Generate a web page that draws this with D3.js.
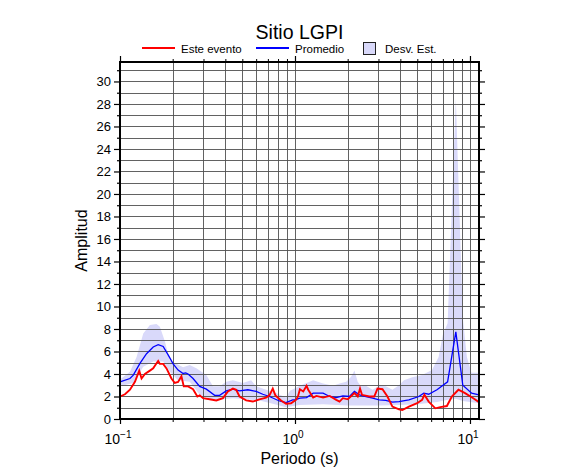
<!DOCTYPE html>
<html><head><meta charset="utf-8">
<script src="https://cdn.jsdelivr.net/npm/d3@7/dist/d3.min.js"></script>
<style>
body{margin:0;background:#fff}
text{font-family:"Liberation Sans",Arial,Helvetica,sans-serif;fill:#000}
</style>
</head><body>
<svg id="chart" width="586" height="475"></svg>
<script>
// ---------- data ----------
const titleText = "Sitio LGPI";
const xLabelText = "Periodo (s)";
const yLabelText = "Amplitud";
const legendLabels = ["Este evento", "Promedio", "Desv. Est."];

const eventPeriods = [0.1,0.1068,0.114,0.1217,0.1288,0.1328,0.1388,0.1482,0.1548,0.1617,0.1653,0.169,0.1765,0.1844,0.1968,0.2056,0.2148,0.2244,0.2314,0.2449,0.2615,0.2768,0.2854,0.2982,0.3253,0.3551,0.3874,0.4138,0.4418,0.4614,0.4821,0.5262,0.5741,0.6266,0.6838,0.7144,0.7464,0.7727,0.8325,0.8887,0.9489,1.0132,1.04,1.067,1.115,1.164,1.19,1.27,1.326,1.447,1.578,1.721,1.797,1.877,2.004,2.186,2.283,2.353,2.415,2.658,2.837,2.963,3.162,3.375,3.603,3.929,4.104,4.477,4.991,5.326,5.49,5.808,6.337,6.764,7.379,7.876,8.59,9.37,10.44,11.26];
const eventAmps    = [2.0,2.2,2.6,3.3,4.3,3.6,4.0,4.3,4.5,4.95,5.15,4.9,4.9,4.5,3.6,3.2,3.3,3.8,2.9,2.9,2.65,2.0,2.1,1.85,1.75,1.65,1.85,2.45,2.7,2.6,2.0,1.65,1.55,1.75,1.9,2.1,2.7,2.1,1.65,1.35,1.4,1.7,2.0,2.65,2.45,2.95,2.6,1.9,2.05,1.9,2.05,1.7,1.55,1.85,1.75,2.3,2.0,2.7,2.15,2.0,2.0,2.7,2.65,2.0,1.1,0.85,0.8,1.1,1.4,1.7,2.15,1.55,0.95,1.05,1.15,2.0,2.6,2.3,1.85,1.5];

const meanPeriods = [0.1,0.114,0.1191,0.13,0.1418,0.1548,0.1653,0.1765,0.1884,0.2012,0.2148,0.2294,0.2375,0.2449,0.2615,0.2854,0.3115,0.3474,0.371,0.4048,0.4418,0.4821,0.5378,0.5998,0.6545,0.7144,0.8145,0.8887,0.9699,1.0,1.067,1.164,1.27,1.447,1.578,1.721,1.877,2.048,2.186,2.333,2.545,2.776,3.028,3.303,3.603,3.929,4.477,5.101,5.443,5.808,6.477,7.45,8.3,9.1,10.22,11.26];
const meanAmps    = [3.3,3.6,3.9,4.95,5.8,6.4,6.6,6.45,5.7,4.9,4.35,4.05,4.1,4.0,3.6,2.9,2.65,2.1,2.1,2.5,2.65,2.5,2.6,2.45,2.2,2.0,1.6,1.45,1.7,1.7,1.85,1.9,2.3,2.3,2.0,1.9,2.05,2.0,2.45,2.15,2.0,1.85,1.7,1.65,1.5,1.55,1.7,2.0,2.3,2.2,2.6,3.3,7.75,3.0,2.3,2.15];

const upperPeriods = [0.1,0.114,0.1244,0.1358,0.1482,0.1617,0.169,0.1804,0.1926,0.2101,0.2294,0.2503,0.2732,0.3115,0.3399,0.371,0.4048,0.4418,0.5036,0.5617,0.5998,0.6838,0.7796,0.8887,0.937,1.067,1.27,1.447,1.648,1.797,1.961,2.093,2.186,2.283,2.384,2.545,2.776,3.028,3.303,3.603,3.929,4.195,4.676,5.326,6.067,6.619,7.0,7.45,8.3,9.1,9.6,10.2,11.26];
const upperAmps    = [3.5,4.2,5.5,7.6,8.35,8.45,8.2,6.9,5.2,4.9,4.6,4.8,4.5,3.9,2.9,2.9,3.3,3.45,3.2,3.45,2.9,2.6,2.3,1.9,2.5,2.95,3.45,3.15,2.95,3.15,3.3,3.75,4.3,3.3,2.9,2.95,2.6,2.95,2.9,2.6,3.0,3.45,3.7,3.9,4.35,5.5,7.5,8.5,28.5,9.0,5.5,4.1,4.1];

const lowerPeriods = [0.1,0.1191,0.1358,0.1548,0.1765,0.1926,0.2148,0.2503,0.2854,0.3399,0.3874,0.4418,0.5262,0.6266,0.7464,0.8887,1.0585,1.447,2.0,3.0,4.0,5.0,6.5,7.45,8.3,9.1,11.26];
const lowerAmps    = [2.9,3.2,4.65,5.1,5.1,4.2,3.45,3.3,2.15,1.7,1.75,1.85,1.75,1.65,1.35,1.05,1.25,1.3,1.2,1.2,1.25,1.3,1.5,1.7,1.8,1.6,1.4];

const xDomain = [0.1, 11.26];
const yDomain = [0, 31.73];
const xDecades = [0.1, 1, 10];
const xDecadeExponents = ["\u22121", "0", "1"];
const yTickLabels = d3.range(0, 31, 2);

// ---------- layout ----------
const L = 120, R = 479, T = 62, B = 419;
const colRed = "#ff0000", colBlue = "#0000ff", colBand = "#d9d9fa";

const svg = d3.select("#chart");
const x = d3.scaleLog().domain(xDomain).range([L, R]);
const y = d3.scaleLinear().domain(yDomain).range([B, T]);

// grid values
const xGrid = [];
[0.1, 1].forEach(d => { for (let k = 1; k <= 9; k++) xGrid.push(+(d * k).toFixed(4)); });
xGrid.push(10);
const yGrid = d3.range(0, 32, 1);

// band
const upperPts = upperPeriods.map((p, i) => [p, upperAmps[i]]);
const lowerPts = lowerPeriods.map((p, i) => [p, lowerAmps[i]]);
const bandPts = upperPts.concat(lowerPts.slice().reverse());
svg.append("path")
  .attr("d", d3.line().x(d => x(d[0])).y(d => y(d[1]))(bandPts) + "Z")
  .attr("fill", colBand).attr("stroke", "none");

// grid
const g = svg.append("g").attr("stroke", "#505050").attr("stroke-width", 0.9);
g.selectAll("line.vx").data(xGrid).join("line")
  .attr("x1", d => Math.round(x(d)) + 0.5).attr("x2", d => Math.round(x(d)) + 0.5)
  .attr("y1", T).attr("y2", B);
g.selectAll("line.hy").data(yGrid).join("line")
  .attr("y1", d => Math.round(y(d)) + 0.5).attr("y2", d => Math.round(y(d)) + 0.5)
  .attr("x1", L).attr("x2", R);

// lines
const line = d3.line().x(d => x(d[0])).y(d => y(d[1]));
svg.append("path").datum(meanPeriods.map((p, i) => [p, meanAmps[i]]))
  .attr("d", line).attr("fill", "none").attr("stroke", colBlue).attr("stroke-width", 1.3);
svg.append("path").datum(eventPeriods.map((p, i) => [p, eventAmps[i]]))
  .attr("d", line).attr("fill", "none").attr("stroke", colRed).attr("stroke-width", 1.9);

// axes with d3 axis generators
const tickFmtNone = () => "";
const yMajor = yTickLabels;
const yMinor = d3.range(1, 32, 2);
svg.append("g").attr("transform", `translate(${L},0)`)
  .call(d3.axisLeft(y).tickValues(yMajor).tickSize(6).tickPadding(3).tickFormat(d3.format("d")))
  .call(s => { s.select(".domain").remove(); s.selectAll("text").attr("font-size", 13).attr("font-family", "Liberation Sans, Arial, sans-serif"); s.selectAll("line").attr("stroke-width", 1.2); });
svg.append("g").attr("transform", `translate(${L},0)`)
  .call(d3.axisLeft(y).tickValues(yMinor).tickSize(3).tickFormat(tickFmtNone))
  .call(s => { s.select(".domain").remove(); s.selectAll("line").attr("stroke-width", 1.2); });
svg.append("g").attr("transform", `translate(${R},0)`)
  .call(d3.axisRight(y).tickValues(yMajor).tickSize(6).tickFormat(tickFmtNone))
  .call(s => { s.select(".domain").remove(); s.selectAll("line").attr("stroke-width", 1.2); });
svg.append("g").attr("transform", `translate(${R},0)`)
  .call(d3.axisRight(y).tickValues(yMinor).tickSize(3).tickFormat(tickFmtNone))
  .call(s => { s.select(".domain").remove(); s.selectAll("line").attr("stroke-width", 1.2); });
const xMinor = xGrid.filter(v => !xDecades.includes(v));
svg.append("g").attr("transform", `translate(0,${B})`)
  .call(d3.axisBottom(x).tickValues(xDecades).tickSize(5).tickFormat(tickFmtNone))
  .call(s => { s.select(".domain").remove(); s.selectAll("line").attr("stroke-width", 1.2); });
svg.append("g").attr("transform", `translate(0,${B})`)
  .call(d3.axisBottom(x).tickValues(xMinor).tickSize(3).tickFormat(tickFmtNone))
  .call(s => { s.select(".domain").remove(); s.selectAll("line").attr("stroke-width", 1); });
svg.append("g").attr("transform", `translate(0,${T})`)
  .call(d3.axisTop(x).tickValues(xDecades).tickSize(6).tickFormat(tickFmtNone))
  .call(s => { s.select(".domain").remove(); s.selectAll("line").attr("stroke-width", 1.2); });
svg.append("g").attr("transform", `translate(0,${T})`)
  .call(d3.axisTop(x).tickValues(xMinor).tickSize(3).tickFormat(tickFmtNone))
  .call(s => { s.select(".domain").remove(); s.selectAll("line").attr("stroke-width", 1); });

// x decade labels with superscripts
const xl = svg.append("g");
xDecades.forEach((d, i) => {
  const t = xl.append("text").attr("x", x(d) - 2).attr("y", B + 25)
    .attr("text-anchor", "middle").attr("font-size", 14);
  t.append("tspan").text("10");
  t.append("tspan").attr("dy", -6).attr("font-size", 10).text(xDecadeExponents[i]);
});

// frame
svg.append("rect").attr("x", L).attr("y", T).attr("width", R - L).attr("height", B - T)
  .attr("fill", "none").attr("stroke", "#000").attr("stroke-width", 2);

// labels
svg.append("text").attr("x", (L + R) / 2).attr("y", 39).attr("text-anchor", "middle")
  .attr("font-size", 19.5).text(titleText);
svg.append("text").attr("x", (L + R) / 2).attr("y", 464).attr("text-anchor", "middle")
  .attr("font-size", 16).text(xLabelText);
svg.append("text").attr("transform", `translate(87,${(T + B) / 2}) rotate(-90)`)
  .attr("text-anchor", "middle").attr("font-size", 16).text(yLabelText);

// legend
const lg = svg.append("g");
lg.append("line").attr("x1", 142).attr("x2", 175).attr("y1", 48).attr("y2", 48).attr("stroke", colRed).attr("stroke-width", 2);
lg.append("text").attr("x", 181).attr("y", 53).attr("font-size", 11.5).text(legendLabels[0]);
lg.append("line").attr("x1", 256).attr("x2", 289).attr("y1", 48).attr("y2", 48).attr("stroke", colBlue).attr("stroke-width", 2);
lg.append("text").attr("x", 295).attr("y", 53).attr("font-size", 11.5).text(legendLabels[1]);
lg.append("rect").attr("x", 363.5).attr("y", 42.5).attr("width", 12).attr("height", 12)
  .attr("fill", colBand).attr("stroke", "#222").attr("stroke-width", 1);
lg.append("text").attr("x", 385).attr("y", 53).attr("font-size", 11.5).text(legendLabels[2]);
</script>
</body></html>
